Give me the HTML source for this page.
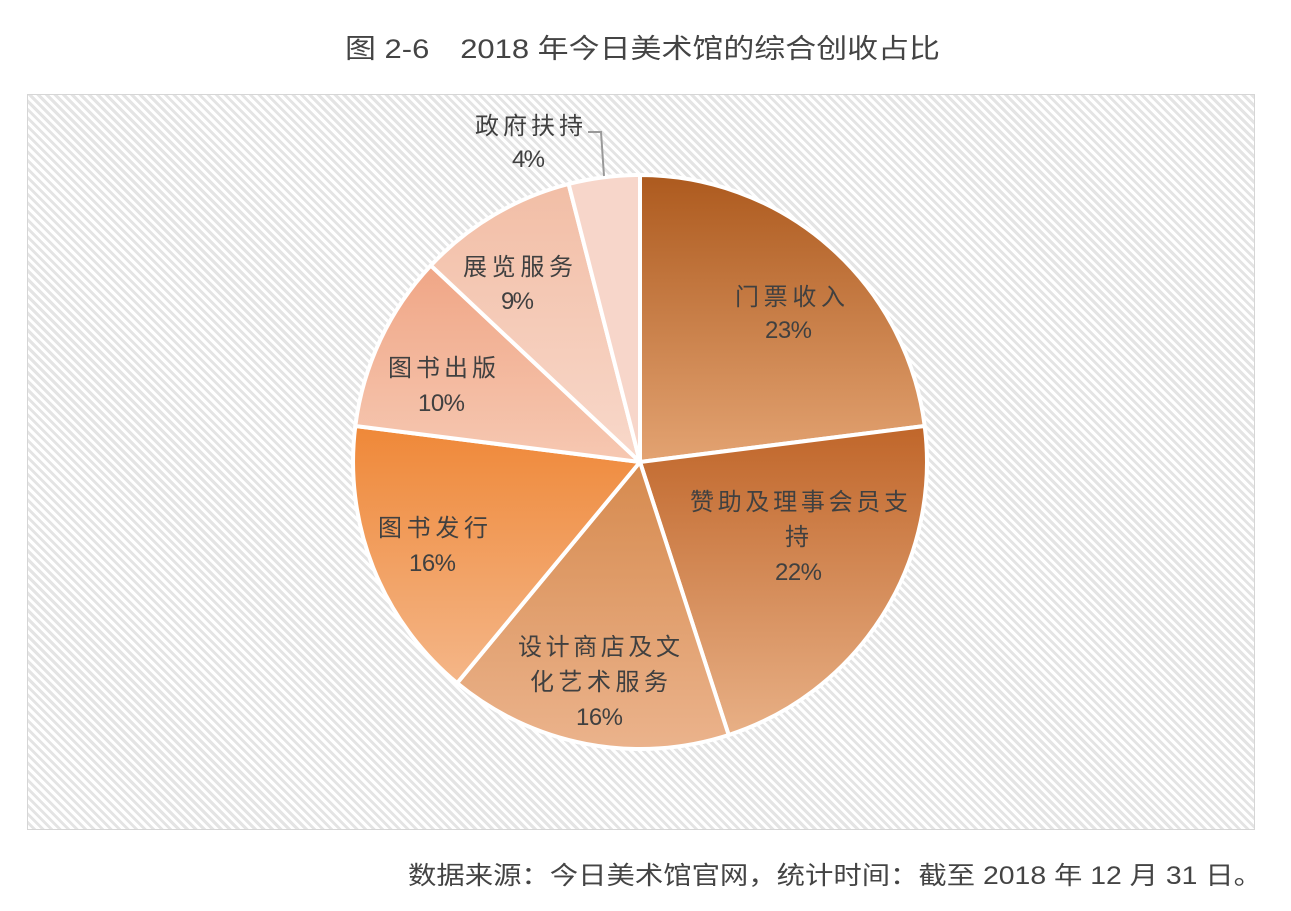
<!DOCTYPE html>
<html><head><meta charset="utf-8"><style>
body{margin:0;width:1291px;height:911px;background:#fff;overflow:hidden;}
.box{position:absolute;left:27px;top:94px;width:1226px;height:734px;border:1px solid #d6d6d6;
background:repeating-linear-gradient(45deg,#ffffff 0 3px,#e4e4e4 3px 6px);}
svg{position:absolute;left:0;top:0}
</style></head><body>
<div class="box"></div>
<svg width="1291" height="911" font-family="Liberation Sans, Noto Sans CJK SC, sans-serif">
<defs>
<linearGradient id="g1" x1="0" y1="0" x2="0" y2="1"><stop offset="0" stop-color="#ad5a1e"/><stop offset="1" stop-color="#e3a372"/></linearGradient>
<linearGradient id="g2" x1="0" y1="0" x2="0" y2="1"><stop offset="0" stop-color="#c0662a"/><stop offset="1" stop-color="#e8b086"/></linearGradient>
<linearGradient id="g3" x1="0" y1="0" x2="0" y2="1"><stop offset="0" stop-color="#d68a4e"/><stop offset="1" stop-color="#ebb38c"/></linearGradient>
<linearGradient id="g4" x1="0" y1="0" x2="0" y2="1"><stop offset="0" stop-color="#ef8838"/><stop offset="1" stop-color="#f4b688"/></linearGradient>
<linearGradient id="g5" x1="0" y1="0" x2="0" y2="1"><stop offset="0" stop-color="#f0a686"/><stop offset="1" stop-color="#f6c8b2"/></linearGradient>
<linearGradient id="g6" x1="0" y1="0" x2="0" y2="1"><stop offset="0" stop-color="#f2bea6"/><stop offset="1" stop-color="#f8d8ca"/></linearGradient>
</defs>
<text x="345" y="58" font-size="27" fill="#444" textLength="595" lengthAdjust="spacingAndGlyphs">图 2-6　2018 年今日美术馆的综合创收占比</text>
<text x="408" y="884" font-size="25" fill="#444" textLength="854" lengthAdjust="spacingAndGlyphs">数据来源：今日美术馆官网，统计时间：截至 2018 年 12 月 31 日。</text>
<g stroke="#fff" stroke-width="4" stroke-linejoin="round">
<path d="M640,462 L640,175 A287,287 0 0 1 924.7,426 Z" fill="url(#g1)"/>
<path d="M640,462 L924.7,426 A287,287 0 0 1 728.7,735 Z" fill="url(#g2)"/>
<path d="M640,462 L728.7,735 A287,287 0 0 1 457.1,683.1 Z" fill="url(#g3)"/>
<path d="M640,462 L457.1,683.1 A287,287 0 0 1 355.3,426 Z" fill="url(#g4)"/>
<path d="M640,462 L355.3,426 A287,287 0 0 1 430.8,265.5 Z" fill="url(#g5)"/>
<path d="M640,462 L430.8,265.5 A287,287 0 0 1 568.6,184 Z" fill="url(#g6)"/>
<path d="M640,462 L568.6,184 A287,287 0 0 1 640,175 Z" fill="#f7d6ca"/>
</g>
<polyline points="588,132 601,132 604,176" fill="none" stroke="#999" stroke-width="2"/>
<g font-size="24" fill="#404040" lengthAdjust="spacingAndGlyphs">
<text x="475" y="134" textLength="108">政府扶持</text><text x="512" y="167" textLength="33">4%</text>
<text x="735" y="305" textLength="110">门票收入</text><text x="765" y="338" textLength="47">23%</text>
<text x="690" y="510" textLength="218">赞助及理事会员支</text><text x="785" y="545" textLength="27">持</text><text x="775" y="580" textLength="47">22%</text>
<text x="518" y="655" textLength="162">设计商店及文</text><text x="530" y="690" textLength="138">化艺术服务</text><text x="576" y="725" textLength="47">16%</text>
<text x="378" y="536" textLength="110">图书发行</text><text x="409" y="571" textLength="47">16%</text>
<text x="388" y="376" textLength="108">图书出版</text><text x="418" y="411" textLength="47">10%</text>
<text x="463" y="275" textLength="110">展览服务</text><text x="501" y="309" textLength="33">9%</text>
</g>
</svg>
</body></html>
